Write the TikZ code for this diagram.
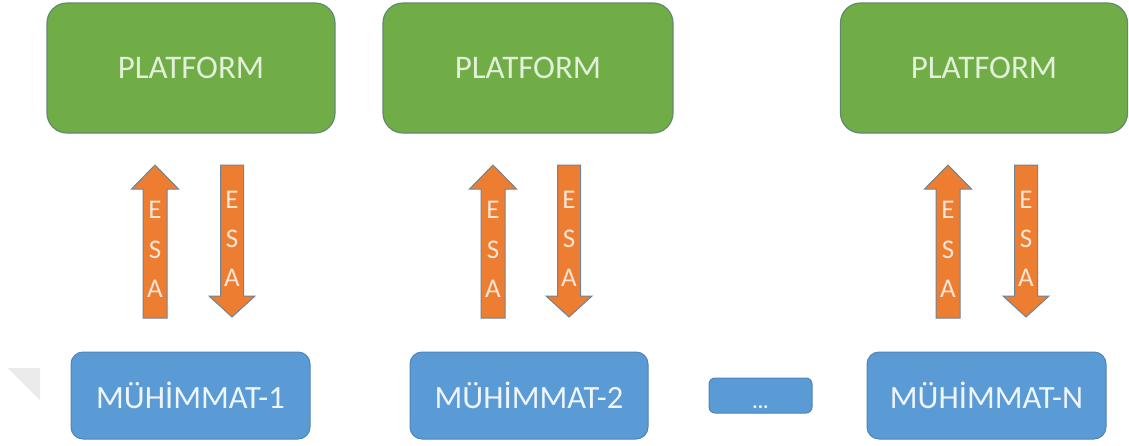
\documentclass[tikz,border=0pt]{standalone}
\usepackage{fontspec}
\setmainfont{Carlito}
\definecolor{pgreen}{HTML}{70AD47}
\definecolor{pgreenline}{HTML}{5F8A6E}
\definecolor{pgreentext}{HTML}{E2F0D9}
\definecolor{mblue}{HTML}{5B9BD5}
\definecolor{mblueline}{HTML}{4F84B8}
\definecolor{mbluetext}{HTML}{EEF5FC}
\definecolor{aorange}{HTML}{ED7D31}
\definecolor{aorangeline}{HTML}{6F8496}
\definecolor{aorangetext}{HTML}{FBE5D6}
\definecolor{wmark}{HTML}{EBEBEB}
\tikzset{
  platform/.style={draw=pgreenline, line width=1.2pt, fill=pgreen, rounded corners=20pt,
    minimum height=130pt, text=pgreentext, font=\fontsize{33}{38}\selectfont, inner sep=0pt},
  munition/.style={draw=mblueline, line width=1pt, fill=mblue, rounded corners=12pt,
    minimum height=87pt, minimum width=239pt, text=mbluetext, font=\fontsize{32.5}{38}\selectfont, inner sep=0pt},
  dotsbox/.style={draw=mblueline, line width=1pt, fill=mblue, rounded corners=6pt,
    minimum height=35pt, minimum width=103pt, inner sep=0pt},
  blockarrow/.style={draw=aorangeline, line width=1pt, fill=aorange, line join=miter},
  esaletter/.style={text=aorangetext, font=\fontsize{27}{30}\selectfont, inner sep=0pt},
}
\begin{document}
\begin{tikzpicture}[x=1pt, y=-1pt]
\useasboundingbox (0,0) rectangle (1129,445);
% faint watermark corner
\fill[wmark] (8,368) -- (40,368) -- (40,400) -- cycle;
% platforms
\node[platform, minimum width=288pt] (p1) at (191,68) {PLATFORM};
\node[platform, minimum width=290pt] (p2) at (528,68) {PLATFORM};
\node[platform, minimum width=287pt] (p3) at (984,68) {PLATFORM};
% munitions
\node[munition] (m1) at (190.5,395.5) {MÜHİMMAT-1};
\node[munition, minimum width=238pt] (m2) at (529,395.5) {MÜHİMMAT-2};
\node[dotsbox] (md) at (760.5,395.5) {};
\node[text=mbluetext, font=\fontsize{20}{22}\selectfont\bfseries, anchor=base, inner sep=0pt] (mdt) at (760.5,408) {...};
\node[munition] (mn) at (986.5,395.5) {MÜHİMMAT-N};
% up arrows
\foreach \c/\n in {155/1, 493/2, 948/3}{
  \draw[blockarrow] (\c-12,318) -- (\c-12,189) -- (\c-23.5,189) -- (\c,165)
     -- (\c+23.5,189) -- (\c+12,189) -- (\c+12,318) -- cycle;
  \node[esaletter] (ue\n) at (\c,210) {E};
  \node[esaletter] (us\n) at (\c,250) {S};
  \node[esaletter] (ua\n) at (\c,289) {A};
}
% down arrows
\foreach \c/\n in {232/1, 569/2, 1026/3}{
  \draw[blockarrow] (\c-11.5,165) -- (\c+11.5,165) -- (\c+11.5,296) -- (\c+23,296)
     -- (\c,317) -- (\c-23,296) -- (\c-11.5,296) -- cycle;
  \node[esaletter] (de\n) at (\c,200) {E};
  \node[esaletter] (ds\n) at (\c,239) {S};
  \node[esaletter] (da\n) at (\c,278) {A};
}
\end{tikzpicture}
\end{document}
